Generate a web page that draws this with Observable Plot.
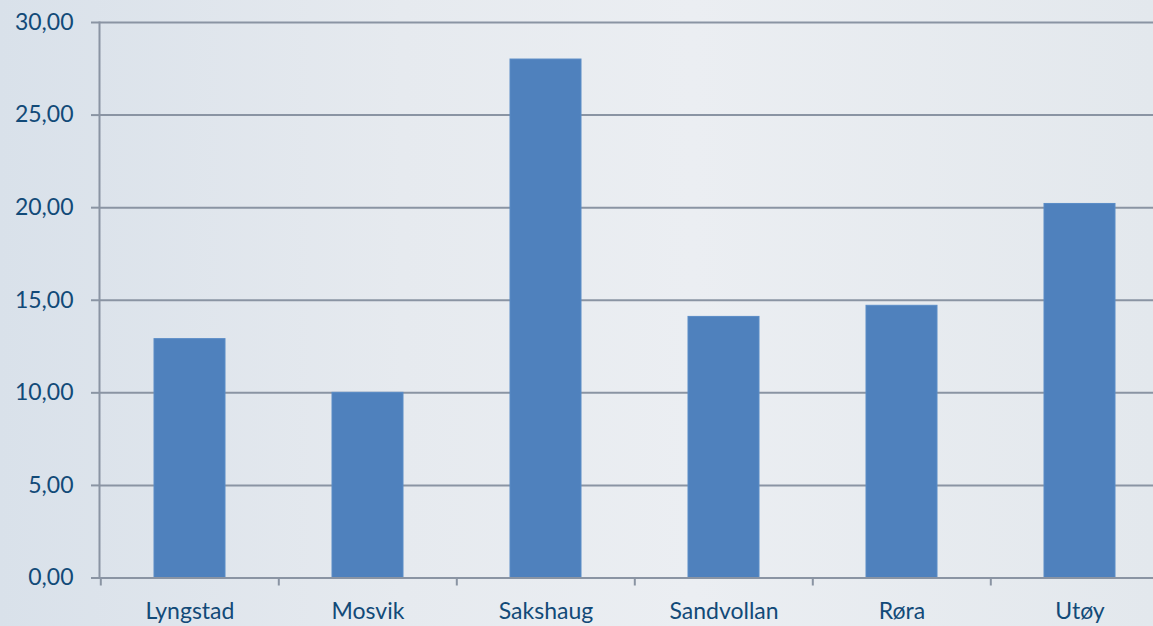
<!DOCTYPE html>
<html>
<head>
<meta charset="utf-8">
<script src="https://cdn.jsdelivr.net/npm/d3@7"></script>
<script src="https://cdn.jsdelivr.net/npm/@observablehq/plot@0.6"></script>
<style>
  html, body { margin: 0; padding: 0; overflow: hidden; }
  body {
    width: 1153px; height: 626px;
    background: linear-gradient(to right, #d9e1ea 0%, #e6eaef 35%, #ebeef2 60%, #e3e8ed 100%);
    font-family: Lato, "Open Sans", sans-serif;
  }
  svg { display: block; }
</style>
</head>
<body>
<div id="chart"></div>
<script>
const places = ["Lyngstad", "Mosvik", "Sakshaug", "Sandvollan", "Røra", "Utøy"];
const values = [12.9, 10.0, 28.0, 14.1, 14.7, 20.2];
const yTicks = [0, 5, 10, 15, 20, 25, 30];

const data = places.map((p, i) => ({place: p, value: values[i]}));

const gridColor = "#8a94a3";
const textColor = "#124a78";
const barColor = "#4f81bd";
const fmt = d => d.toFixed(2).replace(".", ",");

const W = 1153, H = 626;
const x0 = 99, step = 178.4;

const chart = Plot.plot({
  width: W,
  height: H,
  marginLeft: x0,
  marginRight: 0,
  marginTop: 22,
  marginBottom: 48.5,
  style: {background: "transparent", fontFamily: "Lato, 'Open Sans', sans-serif", fontSize: "23px", color: textColor},
  x: {domain: places, range: [x0, x0 + step * places.length], paddingInner: 0.6, paddingOuter: 0.3, align: 0.5},
  y: {domain: [0, 30]},
  marks: [
    Plot.gridY(yTicks.filter(d => d > 0), {stroke: gridColor, strokeOpacity: 1, strokeWidth: 2}),
    Plot.barY(data, {x: "place", y: "value", fill: barColor, stroke: "#5a8cc6", strokeWidth: 1}),
    Plot.ruleY([0], {stroke: gridColor, strokeWidth: 2}),
    Plot.frame({anchor: "left", stroke: gridColor, strokeWidth: 2}),
    Plot.axisY({ticks: yTicks, tickSize: 8, tickPadding: 18, tickFormat: fmt, stroke: gridColor, strokeWidth: 2, fill: textColor, label: null}),
    Plot.axisX({tickSize: 8, tickFormat: () => "", dx: -step / 2, stroke: gridColor, strokeWidth: 2, label: null}),
    Plot.axisX({tickSize: 0, tickPadding: 25, fill: textColor, label: null})
  ]
});
document.getElementById("chart").appendChild(chart);
</script>
</body>
</html>
